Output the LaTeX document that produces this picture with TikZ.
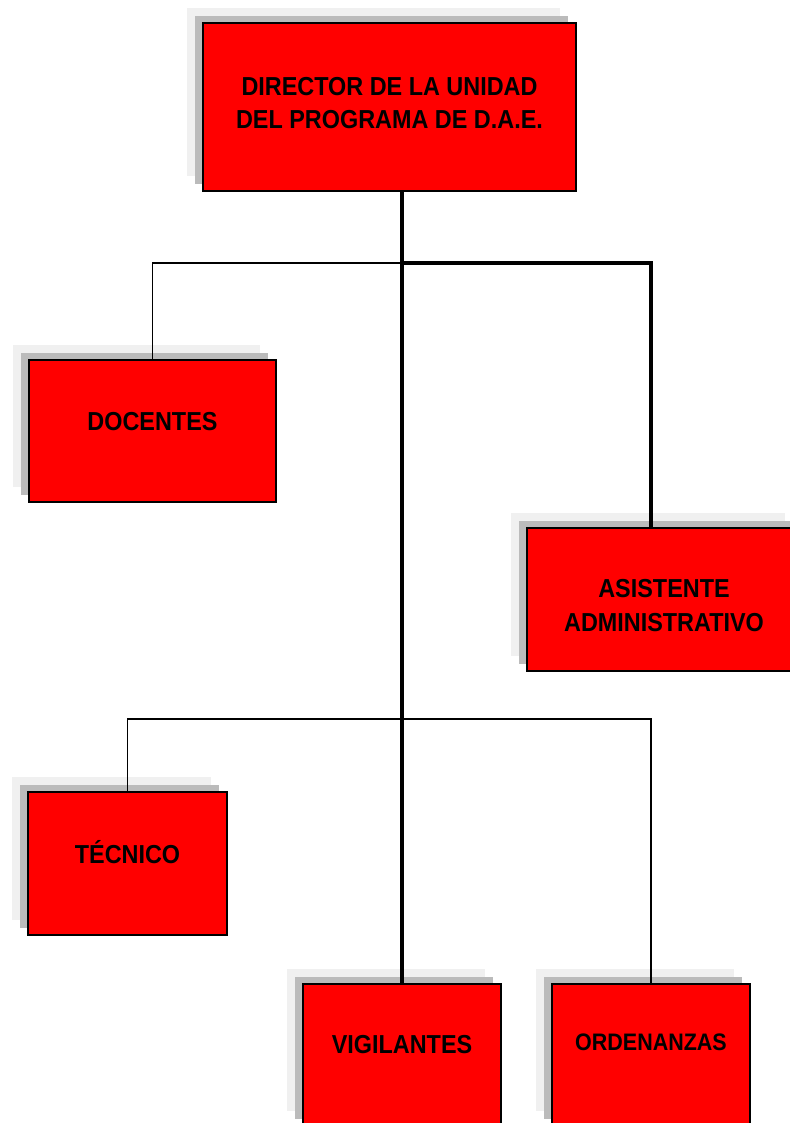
\documentclass[tikz,border=0pt]{standalone}
\usepackage{fontspec}
\setmainfont{Liberation Sans}[FakeStretch=0.9]
\definecolor{rojo}{HTML}{FF0000}
\definecolor{sombraoscura}{HTML}{BBBBBB}
\definecolor{sombraclara}{HTML}{F0F0F0}
\begin{document}
\begin{tikzpicture}[x=0.75pt, y=-0.75pt,
  cargo/.style={draw=black, line width=1.4pt, fill=rojo, inner sep=0pt,
    preaction={fill=sombraclara, transform canvas={xshift=-12pt, yshift=11.25pt}},
    preaction={fill=sombraoscura, transform canvas={xshift=-6pt, yshift=5.25pt}}},
  rotulo/.style={font=\fontsize{19.5}{25}\selectfont\bfseries, align=center},
  fina/.style={line width=0.9pt},
  gruesa/.style={line width=2.4pt}]
  \useasboundingbox (0,0) rectangle (789,1123);
  \node[cargo, minimum width=280pt, minimum height=126pt,
    label={[rotulo, yshift=3.3pt]center:DIRECTOR DE LA UNIDAD\\DEL PROGRAMA DE D.A.E.}] (director) at (389.5,107.4) {};
  \node[cargo, minimum width=185.5pt, minimum height=107pt,
    label={[rotulo, yshift=6.75pt]center:DOCENTES}] (docentes) at (152.5,431) {};
  \node[cargo, minimum width=206pt, minimum height=107.5pt,
    label={[rotulo, yshift=-4.5pt]center:ASISTENTE\\ADMINISTRATIVO}] (asistente) at (664,599.5) {};
  \node[cargo, minimum width=149.5pt, minimum height=107.5pt,
    label={[rotulo, yshift=8.5pt]center:TÉCNICO}] (tecnico) at (127.5,863.5) {};
  \node[cargo, minimum width=149pt, minimum height=107pt,
    label={[rotulo, yshift=7.5pt]center:VIGILANTES}] (vigilantes) at (402,1055) {};
  \node[cargo, minimum width=149pt, minimum height=107pt,
    label={[rotulo, font=\fontsize{17.9}{20}\selectfont\bfseries, yshift=9.4pt]center:ORDENANZAS}] (ordenanzas) at (651,1055) {};
  % ramas del organigrama
  \coordinate (rama1) at (vigilantes.north |- 0,263);
  \coordinate (rama2) at (vigilantes.north |- 0,719);
  \draw[fina] (docentes.north) |- (rama1);
  \draw[fina] (tecnico.north) |- (rama2) -| (ordenanzas.north);
  \draw[gruesa] (rama1) -| (asistente.north -| ordenanzas.north);
  \draw[gruesa] (vigilantes.north |- director.south) -- (vigilantes.north);
\end{tikzpicture}
\end{document}
